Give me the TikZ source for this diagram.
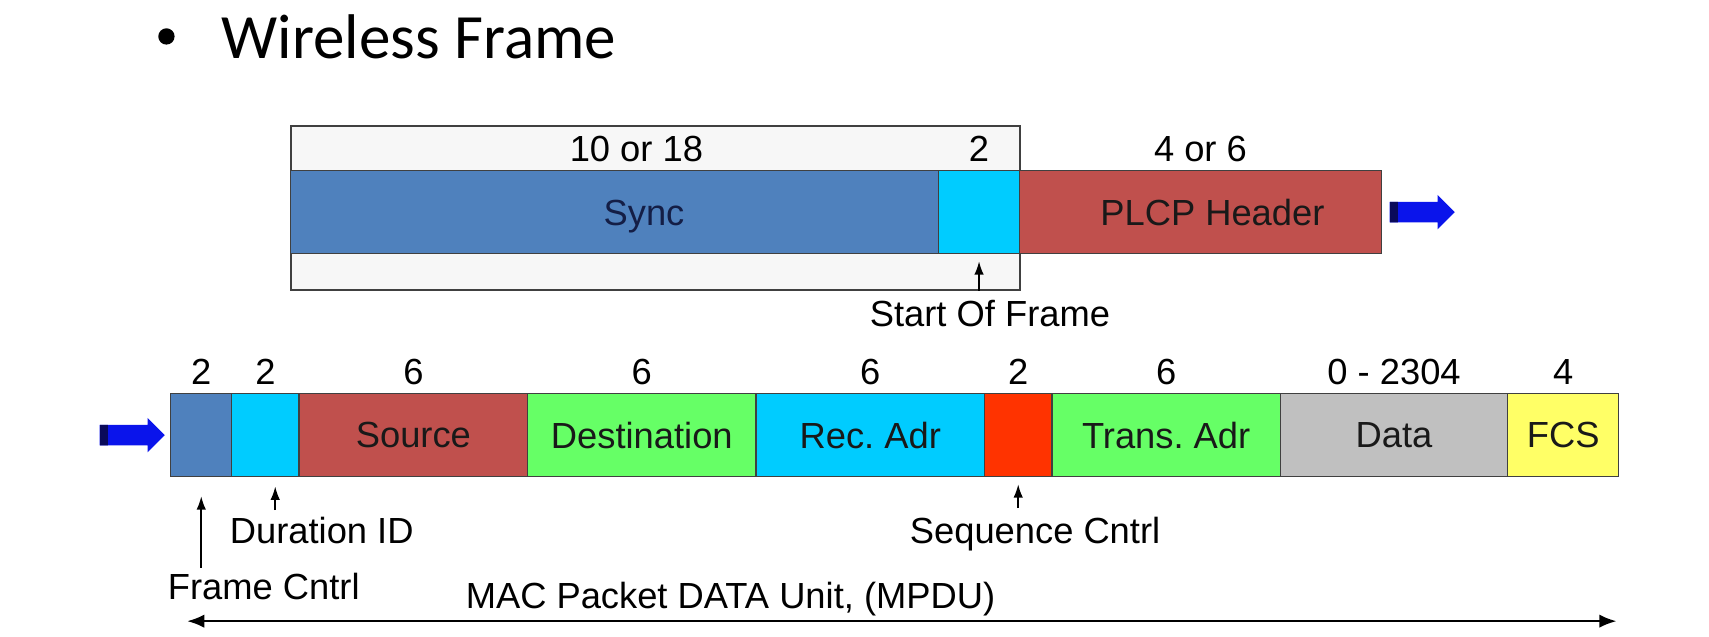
\documentclass[tikz,border=0pt]{standalone}
\usepackage{fontspec}
\setmainfont{Liberation Sans}
\newfontfamily\titlefont{Carlito}
\usepackage{tikz}
\usetikzlibrary{positioning}
\usetikzlibrary{calc}
\usetikzlibrary{arrows.meta}
\usetikzlibrary{shapes.arrows}
\frenchspacing

\definecolor{syncBlue}{RGB}{79,129,189}
\definecolor{sofCyan}{RGB}{0,204,255}
\definecolor{plcpRed}{RGB}{192,80,77}
\definecolor{addrGreen}{RGB}{102,255,102}
\definecolor{seqRed}{RGB}{255,51,0}
\definecolor{dataGray}{RGB}{192,192,192}
\definecolor{fcsYellow}{RGB}{255,255,102}
\definecolor{arrowBlue}{RGB}{10,20,235}
\definecolor{tailBlue}{RGB}{10,10,90}
\definecolor{syncText}{RGB}{20,30,70}

\newcommand{\labelsize}{\fontsize{19}{22}\selectfont}

\begin{document}
\begin{tikzpicture}[
	field/.style={
		draw=black!75,
		line width=0.7pt,
		minimum height=1.53cm,
		inner sep=0pt,
		outer sep=0pt,
		font=\labelsize,
		text=black!90
	},
	num/.style={inner sep=0pt, font=\labelsize},
	note/.style={inner sep=0pt, font=\labelsize},
	pointer/.style={line width=0.8pt, -{Latex[length=7pt,width=5pt]}},
	span/.style={line width=1.2pt, {Latex[length=9pt,width=7pt]}-{Latex[length=9pt,width=7pt]}},
	blockarrow/.style={
		single arrow,
		fill=arrowBlue,
		minimum height=1.2cm,
		single arrow head extend=0.13cm,
		inner sep=0pt,
		path picture={\fill[tailBlue] (path picture bounding box.south west) rectangle ([xshift=0.16cm]path picture bounding box.north west);}
	}
]

\useasboundingbox (0,0) rectangle (31.42,-11.70);

\node[circle, fill=black, minimum size=0.3cm, inner sep=0pt] (bullet) at (3.06,-0.67) {};
\node[anchor=base west, inner sep=0pt, font=\titlefont\fontsize{33}{40}\selectfont] (title) at (4.07,-1.07) {Wireless Frame};

\node[
	draw=black!75,
	fill=black!3,
	line width=0.8pt,
	minimum width=13.4cm,
	minimum height=3.02cm,
	anchor=north west
] (frame) at (5.34,-2.30) {};

\node[
	field,
	fill=syncBlue,
	minimum width=11.92cm,
	anchor=west,
	label={[font=\labelsize, text=syncText, xshift=0.54cm, yshift=-0.08cm]center:Sync}
] (sync) at (5.34,-3.90) {};

\node[field, fill=sofCyan, minimum width=1.48cm, right=0pt of sync] (sof) {};

\node[
	field,
	fill=plcpRed,
	minimum width=6.66cm,
	right=0pt of sof,
	label={[font=\labelsize, text=black!90, xshift=0.22cm]center:PLCP Header}
] (plcp) {};

\node[num, above=0.15cm of sync, xshift=0.4cm] (sync-bytes) {10 or 18};
\node[num, above=0.15cm of sof] (sof-bytes) {2};
\node[num, above=0.15cm of plcp] (plcp-bytes) {4 or 6};

\node[blockarrow, right=0.14cm of plcp] (outArrow) {\rule{0pt}{0.36cm}};

\draw[pointer] (sof.south |- frame.south) -- ([yshift=-0.14cm]sof.south);
\node[note, anchor=north] (sofLabel) at (18.2,-5.52) {Start Of Frame};

\node[field, fill=syncBlue, minimum width=1.12cm, anchor=west] (fc) at (3.14,-8.0) {};
\node[field, fill=sofCyan, minimum width=1.24cm, right=0pt of fc] (dur) {};
\node[field, fill=plcpRed, minimum width=4.2cm, right=0pt of dur] (src) {Source};
\node[field, fill=addrGreen, minimum width=4.2cm, right=0pt of src] (dst) {Destination};
\node[field, fill=sofCyan, minimum width=4.2cm, right=0pt of dst] (rec) {Rec. Adr};
\node[field, fill=seqRed, minimum width=1.24cm, right=0pt of rec] (seq) {};
\node[field, fill=addrGreen, minimum width=4.2cm, right=0pt of seq] (trans) {Trans. Adr};
\node[field, fill=dataGray, minimum width=4.18cm, right=0pt of trans] (data) {Data};
\node[field, fill=fcsYellow, minimum width=2.04cm, right=0pt of data] (fcs) {FCS};

\foreach \f/\b in {fc/2, dur/2, src/6, dst/6, rec/6, seq/2, trans/6, data/0 - 2304, fcs/4}
	\node[num, above=0.15cm of \f] (\f-bytes) {\b};

\node[blockarrow, left=0.1cm of fc] (inArrow) {\rule{0pt}{0.36cm}};

\node[note, anchor=north west] (fcLabel) at (3.08,-10.54) {Frame Cntrl};
\node[note, anchor=north west] (durLabel) at (4.22,-9.50) {Duration ID};
\node[note, anchor=north] (seqLabel) at (19.03,-9.50) {Sequence Cntrl};
\node[note, anchor=north] (mpduLabel) at (13.43,-10.70) {MAC Packet DATA Unit, (MPDU)};

\draw[pointer] ([yshift=0.1cm]fcLabel.north -| fc.south) -- ([yshift=-0.36cm]fc.south);
\draw[pointer] ([xshift=0.18cm,yshift=0.12cm]durLabel.north -| dur.south) -- ([xshift=0.18cm,yshift=-0.18cm]dur.south);
\draw[pointer] ([yshift=0.16cm]seqLabel.north -| seq.south) -- ([yshift=-0.14cm]seq.south);

\coordinate (mpduLeft) at (3.44,-11.42);
\coordinate (mpduRight) at (29.72,-11.42);
\draw[span] (mpduLeft) -- (mpduRight);

\end{tikzpicture}
\end{document}
